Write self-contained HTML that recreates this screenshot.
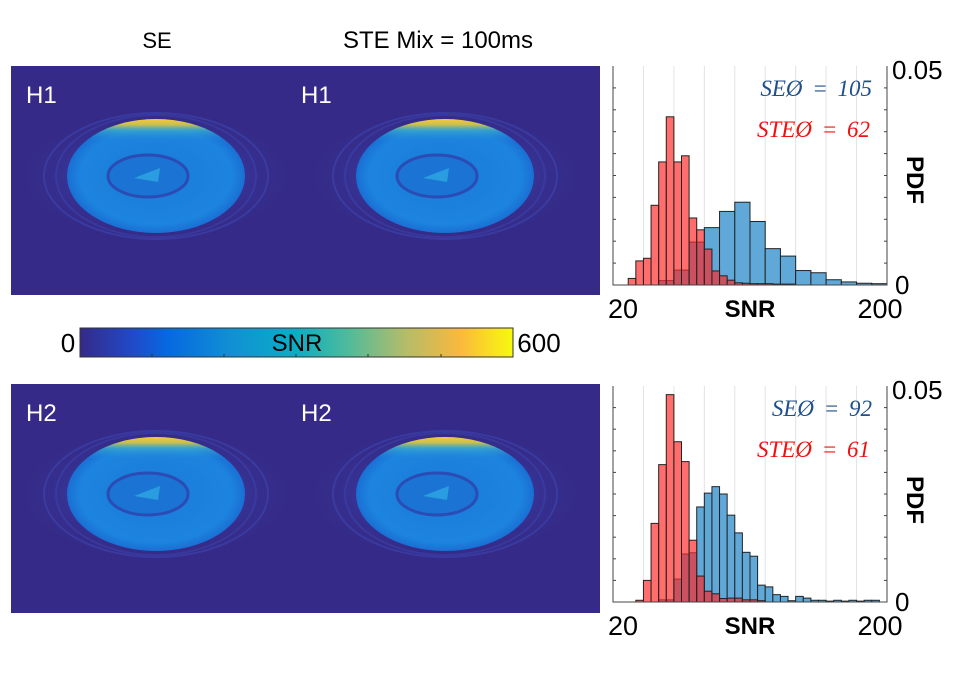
<!DOCTYPE html>
<html><head><meta charset="utf-8"><style>
html,body{margin:0;padding:0;background:#fff;width:957px;height:673px;overflow:hidden}
svg{display:block;font-family:"Liberation Sans",sans-serif}
</style></head><body>
<svg id="fig" width="957" height="673" viewBox="0 0 957 673">
<defs>
<radialGradient id="disk" cx="0.5" cy="0.5" r="0.5">
<stop offset="0" stop-color="#1a7ad8"/><stop offset="0.85" stop-color="#1c84de"/><stop offset="1" stop-color="#1a6fd4"/>
</radialGradient>
<linearGradient id="rim" x1="0" y1="0" x2="0" y2="1">
<stop offset="0" stop-color="#f7c83a"/><stop offset="0.05" stop-color="#c8c050"/><stop offset="0.1" stop-color="#40b0c8" stop-opacity="0.7"/><stop offset="0.2" stop-color="#1c86e0" stop-opacity="0"/>
</linearGradient>
<radialGradient id="halo" cx="0.5" cy="0.5" r="0.5">
<stop offset="0.55" stop-color="#3a3fa8" stop-opacity="0.9"/><stop offset="1" stop-color="#352a87" stop-opacity="0"/>
</radialGradient>
<linearGradient id="parula" x1="0" y1="0" x2="1" y2="0">
<stop offset="0" stop-color="#352a87"/><stop offset="0.12" stop-color="#2149c8"/><stop offset="0.2" stop-color="#0668e0"/><stop offset="0.35" stop-color="#1190d4"/><stop offset="0.5" stop-color="#0aaec4"/><stop offset="0.62" stop-color="#50bb9a"/><stop offset="0.75" stop-color="#b3bc6a"/><stop offset="0.88" stop-color="#fbb93c"/><stop offset="1" stop-color="#f8fa0d"/>
</linearGradient>
</defs>
<text x="157" y="48" font-size="22" text-anchor="middle">SE</text>
<text x="438" y="48" font-size="24" text-anchor="middle">STE Mix = 100ms</text>
<g id="panels"></g>
<g>
<rect x="80" y="328" width="433" height="29" fill="url(#parula)" stroke="#333" stroke-width="1"/>
<g stroke="#333"><line x1="152" y1="357" x2="152" y2="354"/><line x1="224" y1="357" x2="224" y2="354"/><line x1="296" y1="357" x2="296" y2="354"/><line x1="368" y1="357" x2="368" y2="354"/><line x1="441" y1="357" x2="441" y2="354"/></g>
<text x="297" y="351" font-size="24" text-anchor="middle">SNR</text>
<text x="68" y="352" font-size="26" text-anchor="middle">0</text>
<text x="539" y="352" font-size="26" text-anchor="middle">600</text>
</g>
<g id="hists"></g>
</svg>
<script>
// bins 0..35 (narrow bins); wide blue bins in top chart span 2 units
const topRedBins = [2,3,4,5,6,7,8,9,10,11,12,13,14,15,16,17,18,19,20,21,22,23];
const topRedValues = [0.0015,0.0055,0.0061,0.0182,0.0281,0.0384,0.0281,0.0295,0.0153,0.0126,0.0082,0.0032,0.0021,0.0011,0.0005,0.0004,0.0003,0.0003,0.0003,0.0002,0.0002,0.0002];
const topBlueBins = [4,6,8,10,12,14,16,18,20,22,24,26,28,30,32,34];
const topBlueValues = [0,0.001,0.0034,0.0098,0.0131,0.0168,0.0189,0.0145,0.0083,0.0066,0.0033,0.0028,0.0012,0.0007,0.0004,0.0003];
const botRedBins = [3,4,5,6,7,8,9,10,11,12,13,14,15,16,17,18,19];
const botRedValues = [0.0004,0.005,0.0182,0.0318,0.048,0.0371,0.0325,0.0143,0.006,0.0025,0.0019,0.0008,0.0009,0.0009,0.0005,0.0005,0.0003];
const botBlueBins = [6,7,8,9,10,11,12,13,14,15,16,17,18,19,20,21,22,23,24,25,26,27,28,29,30,31,32,33,34];
const botBlueValues = [0.0005,0.0005,0.0053,0.0111,0.0114,0.022,0.0252,0.0267,0.025,0.0201,0.016,0.0115,0.0106,0.0039,0.0035,0.0017,0.0013,0.0003,0.0013,0.0009,0.0004,0.0004,0.0002,0.0004,0.0002,0.0004,0.0002,0.0004,0.0004];
const xTickLabels = ["20","200"];
const yTickLabels = ["0","0.05"];
const annotations = [["SEØ = 105","STEØ = 62"],["SEØ =  92","STEØ = 61"]];

const NS="http://www.w3.org/2000/svg";
function mk(tag,attrs,parent){const e=document.createElementNS(NS,tag);for(const k in attrs)e.setAttribute(k,attrs[k]);parent.appendChild(e);return e;}

const panels=document.getElementById('panels');
[[66,"H1"],[384,"H2"]].forEach(([py,lab],r)=>{
  const g=mk('g',{},panels);
  
  
  mk('rect',{x:11,y:py,width:589,height:229,fill:'#352a87'},g);
  [[156,26],[445,301]].forEach(([cx,lx],c)=>{
    const cy=py+110;
    const s=mk('g',{},g);
    
    
    mk('ellipse',{cx:cx,cy:cy,rx:145,ry:68,fill:'url(#halo)',opacity:0.6},s);
    mk('ellipse',{cx:cx,cy:cy,rx:112,ry:63,fill:'none',stroke:'#3c46b0',"stroke-width":2,opacity:0.6},s);
    mk('ellipse',{cx:cx,cy:cy,rx:100,ry:61,fill:'none',stroke:'#3c46b0',"stroke-width":2,opacity:0.5},s);
    mk('ellipse',{cx:cx,cy:cy,rx:89,ry:57,fill:'url(#disk)'},s);
    mk('ellipse',{cx:cx,cy:cy,rx:89,ry:57,fill:'url(#rim)'},s);
    mk('ellipse',{cx:cx-8,cy:cy,rx:40,ry:21,fill:'#1b74d4',stroke:'#2a4cb4',"stroke-width":3},s);
    mk('path',{d:`M${cx-22} ${cy+2} L${cx+4} ${cy-8} L${cx+2} ${cy+6} Z`,fill:'#2a9ce0'},s);
    const t=mk('text',{x:lx,y:py+37,fill:'#fff',"font-size":24},s);t.textContent=lab;
    
    
  });
});

const hists=document.getElementById('hists');
function drawHist(top,bottom,redB,redV,blueB,blueV,blueW,ann,idx){
  const L=613,R=887,N=36;
  const g=mk('g',{},hists);
  
  
  const xs=b=>L+(R-L)*b/N;
  const ys=v=>bottom-(bottom-top)*v/0.05;
  mk('rect',{x:L,y:top,width:R-L,height:bottom-top,fill:'#fff'},g);
  for(let b=4;b<N;b+=4) mk('line',{x1:xs(b),x2:xs(b),y1:top,y2:bottom,stroke:'#e2e2e2'},g);
  blueB.forEach((b,i)=>{const v=blueV[i];if(v<=0)return;
    const r=mk('rect',{x:xs(b),y:ys(v),width:xs(b+blueW)-xs(b),height:bottom-ys(v),fill:'#5fa8d8',stroke:'#222',"stroke-width":1},g);
    
    });
  redB.forEach((b,i)=>{const v=redV[i];
    const r=mk('rect',{x:xs(b),y:ys(v),width:xs(b+1)-xs(b),height:bottom-ys(v),fill:'rgba(255,40,40,0.68)',stroke:'#222',"stroke-width":1},g);
    
    });
  mk('polyline',{points:`${L},${top} ${L},${bottom} ${R},${bottom} ${R},${top}`,fill:'none',stroke:'#444',"stroke-width":1},g);
  for(let k=1;k<10;k++){const y=bottom-(bottom-top)*k/10;mk('line',{x1:R,x2:R-3,y1:y,y2:y,stroke:'#444'},g);mk('line',{x1:L,x2:L+3,y1:y,y2:y,stroke:'#444'},g);}
  const t0=mk('text',{x:R+8,y:bottom+9,"font-size":26},g);t0.textContent=yTickLabels[0];
  
  
  const t1=mk('text',{x:R+5,y:top+13,"font-size":26},g);t1.textContent=yTickLabels[1];
  
  
  const x0=mk('text',{x:L+10,y:bottom+33,"font-size":27,"text-anchor":"middle"},g);x0.textContent=xTickLabels[0];
  
  
  const x1=mk('text',{x:R-7,y:bottom+33,"font-size":27,"text-anchor":"middle"},g);x1.textContent=xTickLabels[1];
  
  
  const xt=mk('text',{x:750,y:bottom+32,"font-size":24,"font-weight":"bold","text-anchor":"middle"},g);xt.textContent="SNR";
  
  
  const yt=mk('text',{x:0,y:0,"font-size":24,"font-weight":"bold","text-anchor":"middle",transform:`translate(907,${top+114}) rotate(90)`},g);yt.textContent="PDF";
  
  
  const a1=mk('text',{x:872,y:top+30,"font-size":23,"font-style":"italic","font-family":"Liberation Serif, serif",fill:'#1f4e8c',"text-anchor":"end","word-spacing":"4"},g);a1.textContent=ann[0];
  
  
  const a2=mk('text',{x:870,y:top+71,"font-size":23,"font-style":"italic","font-family":"Liberation Serif, serif",fill:'#f01010',"text-anchor":"end","word-spacing":"4"},g);a2.textContent=ann[1];
  
  
}
drawHist(66,285,topRedBins,topRedValues,topBlueBins,topBlueValues,2,annotations[0],0);
drawHist(386,602,botRedBins,botRedValues,botBlueBins,botBlueValues,1,annotations[1],1);
</script>
</body></html>
